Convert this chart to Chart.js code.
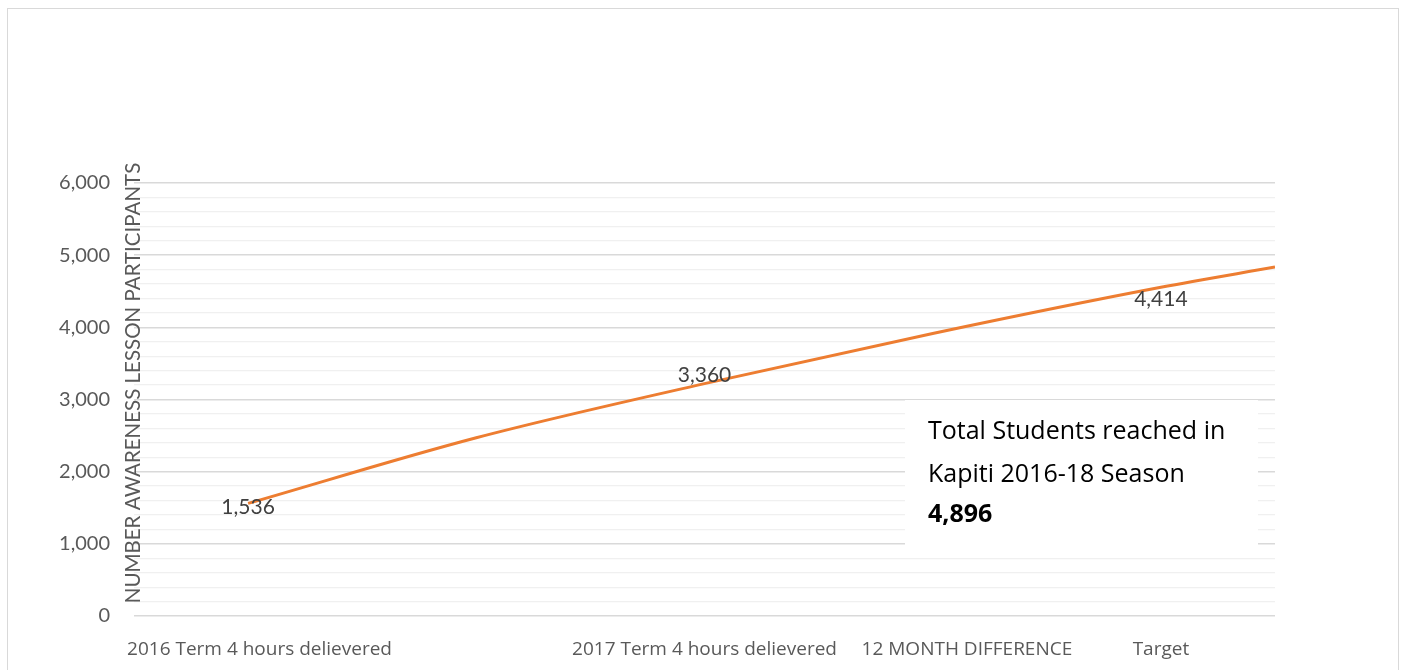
<!DOCTYPE html>
<html>
<head>
<meta charset="utf-8">
<script src="https://cdn.jsdelivr.net/npm/chart.js@4.4.1/dist/chart.umd.min.js"></script>
<style>
    html, body { margin: 0; padding: 0; background: #fff; overflow: hidden; }
    #frame {
        position: absolute; left: 7px; top: 8px; width: 1392px; height: 700px;
        border: 1px solid #d9d9d9; box-sizing: border-box;
    }
    #wrap { position: absolute; left: 0; top: 0; width: 1408px; height: 670px; }
</style>
</head>
<body>
<div id="frame"></div>
<div id="wrap"><canvas id="chart" width="1408" height="670"></canvas></div>
<script>
// category labels (5 slots, 2nd one is blank like the original sheet)
const categories = ['2016 Term 4 hours delievered', '', '2017 Term 4 hours delievered', '12 MONTH DIFFERENCE', 'Target'];
// actual values, shown only as data labels
const actualValues = [1536, null, 3360, null, 4414];
// the orange trend line at x = 1..5 and the right edge (5.5)
const trendX = [1, 2, 3, 4, 5, 5.5];
const trendValues = [1560, 2470, 3220, 3915, 4555, 4835];
const yTicks = [0, 1000, 2000, 3000, 4000, 5000, 6000];

const axisTitle = 'NUMBER AWARENESS LESSON PARTICIPANTS';
const boxLines = ['Total Students reached in', 'Kapiti 2016-18 Season', '4,896'];

const FONT = 'Lato, "Open Sans", sans-serif';
const WIDE = '"Open Sans", Lato, sans-serif';

const overlayPlugin = {
    id: 'overlay',
    afterDatasetsDraw(chart) {
        const ctx = chart.ctx;
        const area = chart.chartArea;

        // data labels centred on the actual points
        const meta = chart.getDatasetMeta(1);
        ctx.save();
        ctx.font = '21px ' + FONT;
        ctx.fillStyle = '#404040';
        ctx.textAlign = 'center';
        ctx.textBaseline = 'middle';
        meta.data.forEach((pt, i) => {
            if (actualValues[i] == null) return;
            ctx.fillText(actualValues[i].toLocaleString('en-US'), pt.x, pt.y + 2);
        });
        ctx.restore();

        // text box
        ctx.save();
        ctx.fillStyle = '#ffffff';
        ctx.fillRect(905, 400, 353, 150);
        ctx.fillStyle = '#000000';
        ctx.textAlign = 'left';
        ctx.textBaseline = 'alphabetic';
        ctx.font = '25px ' + WIDE;
        ctx.fillText(boxLines[0], 928, 439);
        ctx.fillText(boxLines[1], 928, 482);
        ctx.font = 'bold 25px ' + WIDE;
        ctx.fillText(boxLines[2], 928, 522);
        ctx.restore();

        // vertical axis title, sits just left of the plot
        ctx.save();
        ctx.translate(area.left + 6, 383);
        ctx.rotate(-Math.PI / 2);
        ctx.font = '20.5px ' + FONT;
        ctx.fillStyle = '#595959';
        ctx.textAlign = 'center';
        ctx.textBaseline = 'alphabetic';
        ctx.fillText(axisTitle, 0, 0);
        ctx.restore();
    }
};

const ctx = document.getElementById('chart').getContext('2d');
new Chart(ctx, {
    type: 'line',
    data: {
        datasets: [{
            label: 'Trend',
            data: trendX.map((x, i) => ({ x: x, y: trendValues[i] })),
            borderColor: '#ED7D31',
            borderWidth: 3,
            pointRadius: 0,
            cubicInterpolationMode: 'monotone',
            fill: false
        }, {
            label: 'Actual',
            data: actualValues.map((v, i) => ({ x: i + 1, y: v })),
            showLine: false,
            pointRadius: 0,
            borderColor: 'transparent'
        }]
    },
    options: {
        responsive: false,
        animation: false,
        layout: { padding: { left: 0, right: 133, top: 183, bottom: 0 } },
        plugins: {
            legend: { display: false },
            tooltip: { enabled: false }
        },
        scales: {
            x: {
                type: 'linear',
                min: 0.5,
                max: 5.5,
                afterBuildTicks: scale => {
                    // Excel nudged the 1st and 4th labels so they would not overlap
                    scale.ticks = [1.05, 3, 4.15, 5].map(v => ({ value: v }));
                },
                afterFit: scale => { scale.height = 54; },
                grid: { display: false },
                border: { display: false },
                ticks: {
                    autoSkip: false,
                    maxRotation: 0,
                    padding: 14,
                    color: '#595959',
                    font: { family: WIDE, size: 19 },
                    callback: value => categories[Math.round(value) - 1]
                }
            },
            y: {
                min: 0,
                max: 6000,
                afterFit: scale => { scale.width = 134; },
                border: { display: false },
                grid: {
                    drawTicks: false,
                    color: c => (c.tick.value % 1000 === 0 ? '#d9d9d9' : '#f0f0f0'),
                    lineWidth: c => (c.tick.value % 1000 === 0 ? 1.5 : 1.2)
                },
                ticks: {
                    stepSize: 200,
                    maxTicksLimit: 40,
                    autoSkip: false,
                    padding: 24,
                    color: '#595959',
                    font: { family: FONT, size: 20 },
                    callback: value => (yTicks.includes(value) ? value.toLocaleString('en-US') : '')
                }
            }
        }
    },
    plugins: [overlayPlugin]
});
</script>
</body>
</html>
